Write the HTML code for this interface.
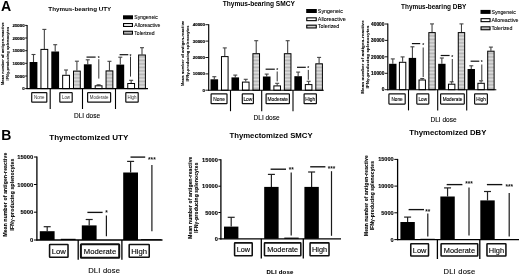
<!DOCTYPE html>
<html><head><meta charset="utf-8"><title>Figure</title>
<style>
html,body{margin:0;padding:0;background:#fff;}
body{width:520px;height:275px;overflow:hidden;}
svg{display:block;font-family:'Liberation Sans', sans-serif;filter:blur(0.3px);}
</style></head><body>
<svg width="520" height="275" viewBox="0 0 520 275">
<defs><pattern id="hatch" width="4" height="1.4" patternUnits="userSpaceOnUse"><rect width="4" height="1.4" fill="#dedede"/><rect y="0" width="4" height="0.6" fill="#adadad"/></pattern></defs>
<rect width="520" height="275" fill="#fff"/>
<line x1="33.50" y1="54.50" x2="33.50" y2="62.00" stroke="#444" stroke-width="1.1" />
<line x1="31.50" y1="54.50" x2="35.50" y2="54.50" stroke="#444" stroke-width="1.1" />
<rect x="29.60" y="62.00" width="7.80" height="26.60" fill="#000" stroke="none" stroke-width="0"/>
<line x1="44.35" y1="29.40" x2="44.35" y2="48.90" stroke="#444" stroke-width="1.1" />
<line x1="42.35" y1="29.40" x2="46.35" y2="29.40" stroke="#444" stroke-width="1.1" />
<rect x="40.95" y="49.40" width="6.80" height="39.20" fill="#fff" stroke="#000" stroke-width="1.0"/>
<line x1="55.20" y1="44.70" x2="55.20" y2="51.50" stroke="#444" stroke-width="1.1" />
<line x1="53.20" y1="44.70" x2="57.20" y2="44.70" stroke="#444" stroke-width="1.1" />
<rect x="51.30" y="51.50" width="7.80" height="37.10" fill="#000" stroke="none" stroke-width="0"/>
<line x1="66.05" y1="70.00" x2="66.05" y2="74.80" stroke="#444" stroke-width="1.1" />
<line x1="64.05" y1="70.00" x2="68.05" y2="70.00" stroke="#444" stroke-width="1.1" />
<rect x="62.65" y="75.30" width="6.80" height="13.30" fill="#fff" stroke="#000" stroke-width="1.0"/>
<line x1="76.90" y1="61.20" x2="76.90" y2="70.60" stroke="#444" stroke-width="1.1" />
<line x1="74.90" y1="61.20" x2="78.90" y2="61.20" stroke="#444" stroke-width="1.1" />
<rect x="73.50" y="71.10" width="6.80" height="17.50" fill="url(#hatch)" stroke="#000" stroke-width="1.0"/>
<line x1="87.75" y1="59.80" x2="87.75" y2="64.30" stroke="#444" stroke-width="1.1" />
<line x1="85.75" y1="59.80" x2="89.75" y2="59.80" stroke="#444" stroke-width="1.1" />
<rect x="83.85" y="64.30" width="7.80" height="24.30" fill="#000" stroke="none" stroke-width="0"/>
<line x1="98.60" y1="84.80" x2="98.60" y2="85.30" stroke="#444" stroke-width="1.1" />
<line x1="96.60" y1="84.80" x2="100.60" y2="84.80" stroke="#444" stroke-width="1.1" />
<rect x="95.20" y="85.80" width="6.80" height="2.80" fill="#fff" stroke="#000" stroke-width="1.0"/>
<line x1="109.45" y1="61.30" x2="109.45" y2="70.40" stroke="#444" stroke-width="1.1" />
<line x1="107.45" y1="61.30" x2="111.45" y2="61.30" stroke="#444" stroke-width="1.1" />
<rect x="106.05" y="70.90" width="6.80" height="17.70" fill="url(#hatch)" stroke="#000" stroke-width="1.0"/>
<line x1="120.30" y1="57.20" x2="120.30" y2="64.60" stroke="#444" stroke-width="1.1" />
<line x1="118.30" y1="57.20" x2="122.30" y2="57.20" stroke="#444" stroke-width="1.1" />
<rect x="116.40" y="64.60" width="7.80" height="24.00" fill="#000" stroke="none" stroke-width="0"/>
<line x1="131.15" y1="80.30" x2="131.15" y2="83.00" stroke="#444" stroke-width="1.1" />
<line x1="129.15" y1="80.30" x2="133.15" y2="80.30" stroke="#444" stroke-width="1.1" />
<rect x="127.75" y="83.50" width="6.80" height="5.10" fill="#fff" stroke="#000" stroke-width="1.0"/>
<line x1="142.00" y1="47.70" x2="142.00" y2="54.50" stroke="#444" stroke-width="1.1" />
<line x1="140.00" y1="47.70" x2="144.00" y2="47.70" stroke="#444" stroke-width="1.1" />
<rect x="138.60" y="55.00" width="6.80" height="33.60" fill="url(#hatch)" stroke="#000" stroke-width="1.0"/>
<line x1="27.10" y1="24.90" x2="27.10" y2="89.10" stroke="#000" stroke-width="1.15" />
<line x1="26.60" y1="88.60" x2="148.00" y2="88.60" stroke="#000" stroke-width="1.15" />
<line x1="25.10" y1="25.40" x2="27.10" y2="25.40" stroke="#000" stroke-width="0.9" />
<text x="24.70" y="26.98" font-size="4.4" font-weight="bold" text-anchor="end" fill="#000" stroke="#000" stroke-width="0.15">25000</text>
<line x1="25.10" y1="38.00" x2="27.10" y2="38.00" stroke="#000" stroke-width="0.9" />
<text x="24.70" y="39.58" font-size="4.4" font-weight="bold" text-anchor="end" fill="#000" stroke="#000" stroke-width="0.15">20000</text>
<line x1="25.10" y1="50.70" x2="27.10" y2="50.70" stroke="#000" stroke-width="0.9" />
<text x="24.70" y="52.28" font-size="4.4" font-weight="bold" text-anchor="end" fill="#000" stroke="#000" stroke-width="0.15">15000</text>
<line x1="25.10" y1="63.30" x2="27.10" y2="63.30" stroke="#000" stroke-width="0.9" />
<text x="24.70" y="64.88" font-size="4.4" font-weight="bold" text-anchor="end" fill="#000" stroke="#000" stroke-width="0.15">10000</text>
<line x1="25.10" y1="76.00" x2="27.10" y2="76.00" stroke="#000" stroke-width="0.9" />
<text x="24.70" y="77.58" font-size="4.4" font-weight="bold" text-anchor="end" fill="#000" stroke="#000" stroke-width="0.15">5000</text>
<line x1="25.10" y1="88.60" x2="27.10" y2="88.60" stroke="#000" stroke-width="0.9" />
<text x="24.70" y="90.18" font-size="4.4" font-weight="bold" text-anchor="end" fill="#000" stroke="#000" stroke-width="0.15">0</text>
<line x1="86.50" y1="57.10" x2="95.60" y2="57.10" stroke="#111" stroke-width="1.2" />
<text x="98.80" y="60.20" font-size="5" font-weight="bold" text-anchor="middle" fill="#111" >*</text>
<line x1="98.80" y1="59.20" x2="98.80" y2="78.60" stroke="#1a1a1a" stroke-width="0.9" />
<line x1="119.60" y1="54.70" x2="128.30" y2="54.70" stroke="#111" stroke-width="1.2" />
<text x="130.50" y="57.80" font-size="5" font-weight="bold" text-anchor="middle" fill="#111" >*</text>
<line x1="130.50" y1="56.60" x2="130.50" y2="76.60" stroke="#1a1a1a" stroke-width="0.9" />
<line x1="50.20" y1="88.60" x2="50.20" y2="109.00" stroke="#000" stroke-width="1.1" />
<line x1="82.50" y1="88.60" x2="82.50" y2="109.00" stroke="#000" stroke-width="1.1" />
<line x1="115.50" y1="88.60" x2="115.50" y2="109.00" stroke="#000" stroke-width="1.1" />
<rect x="31.70" y="92.60" width="15.10" height="9.60" rx="0.5" fill="#fff" stroke="#111" stroke-width="1.2"/>
<text x="39.25" y="99.40" font-size="4.45" font-weight="normal" text-anchor="middle" fill="#333" >None</text>
<rect x="59.80" y="92.60" width="12.40" height="9.60" rx="0.5" fill="#fff" stroke="#111" stroke-width="1.2"/>
<text x="66.00" y="99.40" font-size="4.45" font-weight="normal" text-anchor="middle" fill="#333" >Low</text>
<rect x="87.60" y="92.60" width="23.00" height="9.60" rx="0.5" fill="#fff" stroke="#111" stroke-width="1.2"/>
<text x="99.10" y="99.40" font-size="4.45" font-weight="normal" text-anchor="middle" fill="#333" >Moderate</text>
<rect x="125.80" y="92.60" width="12.40" height="9.60" rx="0.5" fill="#fff" stroke="#111" stroke-width="1.2"/>
<text x="132.00" y="99.40" font-size="4.45" font-weight="normal" text-anchor="middle" fill="#333" >High</text>
<text x="87.00" y="117.80" font-size="6.5" font-weight="normal" text-anchor="middle" fill="#000" stroke="#000" stroke-width="0.1">DLI dose</text>
<text x="79.80" y="10.60" font-size="6.25" font-weight="bold" text-anchor="middle" fill="#000" >Thymus-bearing UTY</text>
<rect x="123.00" y="15.30" width="10.00" height="4.00" fill="#000" stroke="none" stroke-width="0"/>
<text x="134.30" y="19.12" font-size="5.05" font-weight="normal" text-anchor="start" fill="#000" stroke="#000" stroke-width="0.08">Syngeneic</text>
<rect x="123.55" y="23.55" width="8.90" height="2.90" fill="#fff" stroke="#000" stroke-width="1.1"/>
<text x="134.30" y="26.82" font-size="5.05" font-weight="normal" text-anchor="start" fill="#000" stroke="#000" stroke-width="0.08">Alloreactive</text>
<rect x="123.55" y="31.25" width="8.90" height="2.90" fill="url(#hatch)" stroke="#000" stroke-width="1.1"/>
<text x="134.30" y="34.52" font-size="5.05" font-weight="normal" text-anchor="start" fill="#000" stroke="#000" stroke-width="0.08">Tolerized</text>
<text transform="translate(4.30,53.70) rotate(-90)" font-size="3.8" font-weight="bold" text-anchor="middle" fill="#000" stroke="#000" stroke-width="0.1" letter-spacing="0.1">Mean number of antigen-reactive</text>
<text transform="translate(8.80,53.70) rotate(-90)" font-size="3.8" font-weight="bold" text-anchor="middle" fill="#000" stroke="#000" stroke-width="0.1" letter-spacing="0.1">IFNγ-producing splenocytes</text>
<line x1="214.30" y1="76.70" x2="214.30" y2="79.30" stroke="#444" stroke-width="1.1" />
<line x1="212.30" y1="76.70" x2="216.30" y2="76.70" stroke="#444" stroke-width="1.1" />
<rect x="210.50" y="79.30" width="7.60" height="10.90" fill="#000" stroke="none" stroke-width="0"/>
<line x1="224.78" y1="47.90" x2="224.78" y2="56.10" stroke="#444" stroke-width="1.1" />
<line x1="222.78" y1="47.90" x2="226.78" y2="47.90" stroke="#444" stroke-width="1.1" />
<rect x="221.48" y="56.60" width="6.60" height="33.60" fill="#fff" stroke="#000" stroke-width="1.0"/>
<line x1="235.26" y1="75.10" x2="235.26" y2="77.40" stroke="#444" stroke-width="1.1" />
<line x1="233.26" y1="75.10" x2="237.26" y2="75.10" stroke="#444" stroke-width="1.1" />
<rect x="231.46" y="77.40" width="7.60" height="12.80" fill="#000" stroke="none" stroke-width="0"/>
<line x1="245.74" y1="79.30" x2="245.74" y2="81.60" stroke="#444" stroke-width="1.1" />
<line x1="243.74" y1="79.30" x2="247.74" y2="79.30" stroke="#444" stroke-width="1.1" />
<rect x="242.44" y="82.10" width="6.60" height="8.10" fill="#fff" stroke="#000" stroke-width="1.0"/>
<line x1="256.22" y1="40.70" x2="256.22" y2="53.20" stroke="#444" stroke-width="1.1" />
<line x1="254.22" y1="40.70" x2="258.22" y2="40.70" stroke="#444" stroke-width="1.1" />
<rect x="252.92" y="53.70" width="6.60" height="36.50" fill="url(#hatch)" stroke="#000" stroke-width="1.0"/>
<line x1="266.70" y1="74.10" x2="266.70" y2="76.50" stroke="#444" stroke-width="1.1" />
<line x1="264.70" y1="74.10" x2="268.70" y2="74.10" stroke="#444" stroke-width="1.1" />
<rect x="262.90" y="76.50" width="7.60" height="13.70" fill="#000" stroke="none" stroke-width="0"/>
<line x1="277.18" y1="83.30" x2="277.18" y2="85.40" stroke="#444" stroke-width="1.1" />
<line x1="275.18" y1="83.30" x2="279.18" y2="83.30" stroke="#444" stroke-width="1.1" />
<rect x="273.88" y="85.90" width="6.60" height="4.30" fill="#fff" stroke="#000" stroke-width="1.0"/>
<line x1="287.66" y1="40.70" x2="287.66" y2="53.20" stroke="#444" stroke-width="1.1" />
<line x1="285.66" y1="40.70" x2="289.66" y2="40.70" stroke="#444" stroke-width="1.1" />
<rect x="284.36" y="53.70" width="6.60" height="36.50" fill="url(#hatch)" stroke="#000" stroke-width="1.0"/>
<line x1="298.14" y1="72.10" x2="298.14" y2="76.20" stroke="#444" stroke-width="1.1" />
<line x1="296.14" y1="72.10" x2="300.14" y2="72.10" stroke="#444" stroke-width="1.1" />
<rect x="294.34" y="76.20" width="7.60" height="14.00" fill="#000" stroke="none" stroke-width="0"/>
<line x1="308.62" y1="81.30" x2="308.62" y2="84.10" stroke="#444" stroke-width="1.1" />
<line x1="306.62" y1="81.30" x2="310.62" y2="81.30" stroke="#444" stroke-width="1.1" />
<rect x="305.32" y="84.60" width="6.60" height="5.60" fill="#fff" stroke="#000" stroke-width="1.0"/>
<line x1="319.10" y1="57.40" x2="319.10" y2="63.30" stroke="#444" stroke-width="1.1" />
<line x1="317.10" y1="57.40" x2="321.10" y2="57.40" stroke="#444" stroke-width="1.1" />
<rect x="315.80" y="63.80" width="6.60" height="26.40" fill="url(#hatch)" stroke="#000" stroke-width="1.0"/>
<line x1="208.70" y1="24.20" x2="208.70" y2="90.70" stroke="#000" stroke-width="1.15" />
<line x1="208.20" y1="90.20" x2="323.80" y2="90.20" stroke="#000" stroke-width="1.15" />
<line x1="205.40" y1="24.70" x2="208.70" y2="24.70" stroke="#000" stroke-width="0.9" />
<text x="205.00" y="26.28" font-size="4.4" font-weight="bold" text-anchor="end" fill="#000" stroke="#000" stroke-width="0.15">40000</text>
<line x1="205.40" y1="41.10" x2="208.70" y2="41.10" stroke="#000" stroke-width="0.9" />
<text x="205.00" y="42.68" font-size="4.4" font-weight="bold" text-anchor="end" fill="#000" stroke="#000" stroke-width="0.15">30000</text>
<line x1="205.40" y1="57.50" x2="208.70" y2="57.50" stroke="#000" stroke-width="0.9" />
<text x="205.00" y="59.08" font-size="4.4" font-weight="bold" text-anchor="end" fill="#000" stroke="#000" stroke-width="0.15">20000</text>
<line x1="205.40" y1="73.90" x2="208.70" y2="73.90" stroke="#000" stroke-width="0.9" />
<text x="205.00" y="75.48" font-size="4.4" font-weight="bold" text-anchor="end" fill="#000" stroke="#000" stroke-width="0.15">10000</text>
<line x1="205.40" y1="90.20" x2="208.70" y2="90.20" stroke="#000" stroke-width="0.9" />
<text x="205.00" y="91.78" font-size="4.4" font-weight="bold" text-anchor="end" fill="#000" stroke="#000" stroke-width="0.15">0</text>
<line x1="265.60" y1="69.20" x2="274.80" y2="69.20" stroke="#111" stroke-width="1.2" />
<text x="277.20" y="72.30" font-size="5" font-weight="bold" text-anchor="middle" fill="#111" >*</text>
<line x1="277.20" y1="71.50" x2="277.20" y2="81.40" stroke="#1a1a1a" stroke-width="0.9" />
<line x1="297.00" y1="67.30" x2="305.80" y2="67.30" stroke="#111" stroke-width="1.2" />
<text x="308.30" y="70.40" font-size="5" font-weight="bold" text-anchor="middle" fill="#111" >*</text>
<line x1="308.30" y1="69.90" x2="308.30" y2="79.80" stroke="#1a1a1a" stroke-width="0.9" />
<line x1="230.50" y1="90.20" x2="230.50" y2="111.20" stroke="#000" stroke-width="1.1" />
<line x1="261.70" y1="90.20" x2="261.70" y2="111.20" stroke="#000" stroke-width="1.1" />
<line x1="293.00" y1="90.20" x2="293.00" y2="111.20" stroke="#000" stroke-width="1.1" />
<rect x="211.10" y="93.80" width="15.90" height="9.90" rx="0.5" fill="#fff" stroke="#111" stroke-width="1.2"/>
<text x="219.05" y="100.90" font-size="4.85" font-weight="normal" text-anchor="middle" fill="#000" stroke="#000" stroke-width="0.1">None</text>
<rect x="242.30" y="93.80" width="11.10" height="9.90" rx="0.5" fill="#fff" stroke="#111" stroke-width="1.2"/>
<text x="247.85" y="100.90" font-size="4.85" font-weight="normal" text-anchor="middle" fill="#000" stroke="#000" stroke-width="0.1">Low</text>
<rect x="266.10" y="93.80" width="23.30" height="9.90" rx="0.5" fill="#fff" stroke="#111" stroke-width="1.2"/>
<text x="277.75" y="100.90" font-size="4.85" font-weight="normal" text-anchor="middle" fill="#000" stroke="#000" stroke-width="0.1">Moderate</text>
<rect x="304.10" y="93.80" width="12.30" height="9.90" rx="0.5" fill="#fff" stroke="#111" stroke-width="1.2"/>
<text x="310.25" y="100.90" font-size="4.85" font-weight="normal" text-anchor="middle" fill="#000" stroke="#000" stroke-width="0.1">High</text>
<text x="266.60" y="119.80" font-size="6.5" font-weight="normal" text-anchor="middle" fill="#000" stroke="#000" stroke-width="0.1">DLI dose</text>
<text x="258.80" y="6.10" font-size="6.6" font-weight="bold" text-anchor="middle" fill="#000" >Thymus-bearing SMCY</text>
<rect x="306.20" y="9.00" width="10.60" height="4.00" fill="#000" stroke="none" stroke-width="0"/>
<text x="317.80" y="12.94" font-size="5.4" font-weight="normal" text-anchor="start" fill="#000" stroke="#000" stroke-width="0.08">Syngeneic</text>
<rect x="306.75" y="17.85" width="9.50" height="2.80" fill="#fff" stroke="#000" stroke-width="1.1"/>
<text x="317.80" y="21.19" font-size="5.4" font-weight="normal" text-anchor="start" fill="#000" stroke="#000" stroke-width="0.08">Alloreactive</text>
<rect x="306.75" y="25.15" width="9.50" height="2.80" fill="url(#hatch)" stroke="#000" stroke-width="1.1"/>
<text x="317.80" y="28.49" font-size="5.4" font-weight="normal" text-anchor="start" fill="#000" stroke="#000" stroke-width="0.08">Tolerized</text>
<text transform="translate(183.50,53.40) rotate(-90)" font-size="3.95" font-weight="bold" text-anchor="middle" fill="#000" stroke="#000" stroke-width="0.1" letter-spacing="0.12">Mean number of antigen-reactive</text>
<text transform="translate(189.20,53.40) rotate(-90)" font-size="3.95" font-weight="bold" text-anchor="middle" fill="#000" stroke="#000" stroke-width="0.1" letter-spacing="0.12">IFNγ-producing splenocytes</text>
<line x1="392.80" y1="58.90" x2="392.80" y2="63.80" stroke="#444" stroke-width="1.1" />
<line x1="390.80" y1="58.90" x2="394.80" y2="58.90" stroke="#444" stroke-width="1.1" />
<rect x="389.10" y="63.80" width="7.40" height="25.90" fill="#000" stroke="none" stroke-width="0"/>
<line x1="402.61" y1="56.90" x2="402.61" y2="61.80" stroke="#444" stroke-width="1.1" />
<line x1="400.61" y1="56.90" x2="404.61" y2="56.90" stroke="#444" stroke-width="1.1" />
<rect x="399.41" y="62.30" width="6.40" height="27.40" fill="#fff" stroke="#000" stroke-width="1.0"/>
<line x1="412.42" y1="46.80" x2="412.42" y2="57.90" stroke="#444" stroke-width="1.1" />
<line x1="410.42" y1="46.80" x2="414.42" y2="46.80" stroke="#444" stroke-width="1.1" />
<rect x="408.72" y="57.90" width="7.40" height="31.80" fill="#000" stroke="none" stroke-width="0"/>
<line x1="422.23" y1="78.50" x2="422.23" y2="79.50" stroke="#444" stroke-width="1.1" />
<line x1="420.23" y1="78.50" x2="424.23" y2="78.50" stroke="#444" stroke-width="1.1" />
<rect x="419.03" y="80.00" width="6.40" height="9.70" fill="#fff" stroke="#000" stroke-width="1.0"/>
<line x1="432.04" y1="23.90" x2="432.04" y2="32.10" stroke="#444" stroke-width="1.1" />
<line x1="430.04" y1="23.90" x2="434.04" y2="23.90" stroke="#444" stroke-width="1.1" />
<rect x="428.84" y="32.60" width="6.40" height="57.10" fill="url(#hatch)" stroke="#000" stroke-width="1.0"/>
<line x1="441.85" y1="58.00" x2="441.85" y2="63.80" stroke="#444" stroke-width="1.1" />
<line x1="439.85" y1="58.00" x2="443.85" y2="58.00" stroke="#444" stroke-width="1.1" />
<rect x="438.15" y="63.80" width="7.40" height="25.90" fill="#000" stroke="none" stroke-width="0"/>
<line x1="451.66" y1="81.80" x2="451.66" y2="83.70" stroke="#444" stroke-width="1.1" />
<line x1="449.66" y1="81.80" x2="453.66" y2="81.80" stroke="#444" stroke-width="1.1" />
<rect x="448.46" y="84.20" width="6.40" height="5.50" fill="#fff" stroke="#000" stroke-width="1.0"/>
<line x1="461.47" y1="23.90" x2="461.47" y2="32.10" stroke="#444" stroke-width="1.1" />
<line x1="459.47" y1="23.90" x2="463.47" y2="23.90" stroke="#444" stroke-width="1.1" />
<rect x="458.27" y="32.60" width="6.40" height="57.10" fill="url(#hatch)" stroke="#000" stroke-width="1.0"/>
<line x1="471.28" y1="65.80" x2="471.28" y2="69.00" stroke="#444" stroke-width="1.1" />
<line x1="469.28" y1="65.80" x2="473.28" y2="65.80" stroke="#444" stroke-width="1.1" />
<rect x="467.58" y="69.00" width="7.40" height="20.70" fill="#000" stroke="none" stroke-width="0"/>
<line x1="481.09" y1="80.80" x2="481.09" y2="82.80" stroke="#444" stroke-width="1.1" />
<line x1="479.09" y1="80.80" x2="483.09" y2="80.80" stroke="#444" stroke-width="1.1" />
<rect x="477.89" y="83.30" width="6.40" height="6.40" fill="#fff" stroke="#000" stroke-width="1.0"/>
<line x1="490.90" y1="47.10" x2="490.90" y2="50.70" stroke="#444" stroke-width="1.1" />
<line x1="488.90" y1="47.10" x2="492.90" y2="47.10" stroke="#444" stroke-width="1.1" />
<rect x="487.70" y="51.20" width="6.40" height="38.50" fill="url(#hatch)" stroke="#000" stroke-width="1.0"/>
<line x1="387.80" y1="23.50" x2="387.80" y2="90.20" stroke="#000" stroke-width="1.15" />
<line x1="387.30" y1="89.70" x2="496.30" y2="89.70" stroke="#000" stroke-width="1.15" />
<line x1="384.80" y1="24.00" x2="387.80" y2="24.00" stroke="#000" stroke-width="0.9" />
<text x="384.40" y="25.73" font-size="4.8" font-weight="bold" text-anchor="end" fill="#000" stroke="#000" stroke-width="0.15">40000</text>
<line x1="384.80" y1="40.40" x2="387.80" y2="40.40" stroke="#000" stroke-width="0.9" />
<text x="384.40" y="42.13" font-size="4.8" font-weight="bold" text-anchor="end" fill="#000" stroke="#000" stroke-width="0.15">30000</text>
<line x1="384.80" y1="56.80" x2="387.80" y2="56.80" stroke="#000" stroke-width="0.9" />
<text x="384.40" y="58.53" font-size="4.8" font-weight="bold" text-anchor="end" fill="#000" stroke="#000" stroke-width="0.15">20000</text>
<line x1="384.80" y1="73.30" x2="387.80" y2="73.30" stroke="#000" stroke-width="0.9" />
<text x="384.40" y="75.03" font-size="4.8" font-weight="bold" text-anchor="end" fill="#000" stroke="#000" stroke-width="0.15">10000</text>
<line x1="384.80" y1="89.70" x2="387.80" y2="89.70" stroke="#000" stroke-width="0.9" />
<text x="384.40" y="91.43" font-size="4.8" font-weight="bold" text-anchor="end" fill="#000" stroke="#000" stroke-width="0.15">0</text>
<line x1="411.90" y1="43.60" x2="420.20" y2="43.60" stroke="#111" stroke-width="1.2" />
<text x="423.20" y="46.70" font-size="5" font-weight="bold" text-anchor="middle" fill="#111" >*</text>
<line x1="423.20" y1="47.50" x2="423.20" y2="77.00" stroke="#1a1a1a" stroke-width="0.9" />
<line x1="440.70" y1="55.50" x2="449.60" y2="55.50" stroke="#111" stroke-width="1.2" />
<text x="452.30" y="58.60" font-size="5" font-weight="bold" text-anchor="middle" fill="#111" >*</text>
<line x1="452.30" y1="59.00" x2="452.30" y2="81.80" stroke="#1a1a1a" stroke-width="0.9" />
<line x1="470.60" y1="61.20" x2="479.30" y2="61.20" stroke="#111" stroke-width="1.2" />
<text x="481.80" y="64.30" font-size="5" font-weight="bold" text-anchor="middle" fill="#111" >*</text>
<line x1="481.80" y1="64.50" x2="481.80" y2="80.10" stroke="#1a1a1a" stroke-width="0.9" />
<line x1="408.50" y1="89.70" x2="408.50" y2="110.40" stroke="#000" stroke-width="1.1" />
<line x1="437.70" y1="89.70" x2="437.70" y2="110.40" stroke="#000" stroke-width="1.1" />
<line x1="466.70" y1="89.70" x2="466.70" y2="110.40" stroke="#000" stroke-width="1.1" />
<rect x="388.90" y="93.90" width="16.30" height="10.20" rx="0.5" fill="#fff" stroke="#111" stroke-width="1.2"/>
<text x="397.05" y="101.07" font-size="4.65" font-weight="normal" text-anchor="middle" fill="#000" stroke="#000" stroke-width="0.1">None</text>
<rect x="416.80" y="93.90" width="12.00" height="10.20" rx="0.5" fill="#fff" stroke="#111" stroke-width="1.2"/>
<text x="422.80" y="101.07" font-size="4.65" font-weight="normal" text-anchor="middle" fill="#000" stroke="#000" stroke-width="0.1">Low</text>
<rect x="440.60" y="93.90" width="23.70" height="10.20" rx="0.5" fill="#fff" stroke="#111" stroke-width="1.2"/>
<text x="452.45" y="101.07" font-size="4.65" font-weight="normal" text-anchor="middle" fill="#000" stroke="#000" stroke-width="0.1">Moderate</text>
<rect x="474.60" y="93.90" width="12.80" height="10.20" rx="0.5" fill="#fff" stroke="#111" stroke-width="1.2"/>
<text x="481.00" y="101.07" font-size="4.65" font-weight="normal" text-anchor="middle" fill="#000" stroke="#000" stroke-width="0.1">High</text>
<text x="443.50" y="121.60" font-size="6.5" font-weight="normal" text-anchor="middle" fill="#000" stroke="#000" stroke-width="0.1">DLI dose</text>
<text x="433.70" y="8.70" font-size="6.43" font-weight="bold" text-anchor="middle" fill="#000" >Thymus-bearing DBY</text>
<rect x="480.50" y="9.90" width="10.10" height="4.00" fill="#000" stroke="none" stroke-width="0"/>
<text x="491.40" y="13.79" font-size="5.25" font-weight="normal" text-anchor="start" fill="#000" stroke="#000" stroke-width="0.08">Syngeneic</text>
<rect x="481.05" y="18.65" width="9.00" height="3.00" fill="#fff" stroke="#000" stroke-width="1.1"/>
<text x="491.40" y="22.04" font-size="5.25" font-weight="normal" text-anchor="start" fill="#000" stroke="#000" stroke-width="0.08">Alloreactive</text>
<rect x="481.05" y="26.85" width="9.00" height="2.90" fill="url(#hatch)" stroke="#000" stroke-width="1.1"/>
<text x="491.40" y="30.19" font-size="5.25" font-weight="normal" text-anchor="start" fill="#000" stroke="#000" stroke-width="0.08">Tolerized</text>
<text transform="translate(363.70,57.00) rotate(-90)" font-size="4.4" font-weight="bold" text-anchor="middle" fill="#000" stroke="#000" stroke-width="0.1" letter-spacing="0.15">Mean number of antigen-reactive</text>
<text transform="translate(368.70,57.00) rotate(-90)" font-size="4.4" font-weight="bold" text-anchor="middle" fill="#000" stroke="#000" stroke-width="0.1" letter-spacing="0.15">IFNγ-producing splenocytes</text>
<text x="1.10" y="10.70" font-size="14.1" font-weight="bold" text-anchor="start" fill="#000" >A</text>
<text x="1.30" y="140.40" font-size="14" font-weight="bold" text-anchor="start" fill="#000" >B</text>
<line x1="47.20" y1="226.70" x2="47.20" y2="231.20" stroke="#222" stroke-width="1.2" />
<line x1="43.70" y1="226.70" x2="50.70" y2="226.70" stroke="#222" stroke-width="1.2" />
<rect x="39.80" y="231.20" width="14.80" height="8.80" fill="#000" stroke="none" stroke-width="0"/>
<rect x="60.80" y="238.80" width="14.80" height="1.20" fill="#000" stroke="none" stroke-width="0"/>
<line x1="89.20" y1="219.50" x2="89.20" y2="225.40" stroke="#222" stroke-width="1.2" />
<line x1="85.70" y1="219.50" x2="92.70" y2="219.50" stroke="#222" stroke-width="1.2" />
<rect x="81.80" y="225.40" width="14.80" height="14.60" fill="#000" stroke="none" stroke-width="0"/>
<line x1="130.60" y1="161.40" x2="130.60" y2="172.50" stroke="#222" stroke-width="1.2" />
<line x1="127.10" y1="161.40" x2="134.10" y2="161.40" stroke="#222" stroke-width="1.2" />
<rect x="123.20" y="172.50" width="14.80" height="67.50" fill="#000" stroke="none" stroke-width="0"/>
<rect x="141.00" y="239.20" width="20.30" height="0.80" fill="#000" stroke="none" stroke-width="0"/>
<line x1="36.90" y1="156.50" x2="36.90" y2="240.60" stroke="#000" stroke-width="1.3" />
<line x1="36.30" y1="240.00" x2="162.50" y2="240.00" stroke="#000" stroke-width="1.3" />
<line x1="33.90" y1="157.00" x2="36.90" y2="157.00" stroke="#000" stroke-width="1.0" />
<text x="33.30" y="159.09" font-size="5.8" font-weight="bold" text-anchor="end" fill="#000" stroke="#000" stroke-width="0.12">15000</text>
<line x1="33.90" y1="184.50" x2="36.90" y2="184.50" stroke="#000" stroke-width="1.0" />
<text x="33.30" y="186.59" font-size="5.8" font-weight="bold" text-anchor="end" fill="#000" stroke="#000" stroke-width="0.12">10000</text>
<line x1="33.90" y1="212.20" x2="36.90" y2="212.20" stroke="#000" stroke-width="1.0" />
<text x="33.30" y="214.29" font-size="5.8" font-weight="bold" text-anchor="end" fill="#000" stroke="#000" stroke-width="0.12">5000</text>
<line x1="33.90" y1="240.00" x2="36.90" y2="240.00" stroke="#000" stroke-width="1.0" />
<text x="33.30" y="242.09" font-size="5.8" font-weight="bold" text-anchor="end" fill="#000" stroke="#000" stroke-width="0.12">0</text>
<line x1="87.40" y1="212.40" x2="102.60" y2="212.40" stroke="#111" stroke-width="1.35" />
<text x="106.40" y="215.03" font-size="6.5" font-weight="bold" text-anchor="middle" fill="#111" >*</text>
<line x1="106.40" y1="215.40" x2="106.40" y2="236.30" stroke="#1a1a1a" stroke-width="1.2" />
<line x1="130.50" y1="157.10" x2="145.20" y2="157.10" stroke="#111" stroke-width="1.35" />
<text x="151.90" y="162.23" font-size="6.5" font-weight="bold" text-anchor="middle" fill="#111" >***</text>
<line x1="151.90" y1="164.90" x2="151.90" y2="231.20" stroke="#1a1a1a" stroke-width="1.2" />
<line x1="78.20" y1="240.00" x2="78.20" y2="259.80" stroke="#000" stroke-width="1.3" />
<line x1="121.90" y1="240.00" x2="121.90" y2="259.80" stroke="#000" stroke-width="1.3" />
<rect x="49.57" y="244.58" width="18.45" height="12.65" rx="0.5" fill="#fff" stroke="#111" stroke-width="1.55"/>
<text x="58.80" y="254.07" font-size="7.7" font-weight="normal" text-anchor="middle" fill="#000" stroke="#000" stroke-width="0.12">Low</text>
<rect x="80.90" y="244.30" width="38.30" height="13.40" rx="0.5" fill="#fff" stroke="#111" stroke-width="2.0"/>
<text x="100.05" y="254.17" font-size="7.7" font-weight="normal" text-anchor="middle" fill="#000" stroke="#000" stroke-width="0.12">Moderate</text>
<rect x="129.18" y="244.58" width="20.05" height="12.65" rx="0.5" fill="#fff" stroke="#111" stroke-width="1.55"/>
<text x="139.20" y="254.07" font-size="7.7" font-weight="normal" text-anchor="middle" fill="#000" stroke="#000" stroke-width="0.12">High</text>
<text x="104.20" y="272.60" font-size="7.6" font-weight="normal" text-anchor="middle" fill="#000" stroke="#000" stroke-width="0.1" letter-spacing="0.2">DLI dose</text>
<text x="88.80" y="139.60" font-size="8.05" font-weight="bold" text-anchor="middle" fill="#000" >Thymectomized UTY</text>
<text transform="translate(6.60,194.60) rotate(-90)" font-size="5.0" font-weight="bold" text-anchor="middle" fill="#000" stroke="#000" stroke-width="0.1" letter-spacing="0.18">Mean number of antigen-reactive</text>
<text transform="translate(13.60,194.60) rotate(-90)" font-size="5.0" font-weight="bold" text-anchor="middle" fill="#000" stroke="#000" stroke-width="0.1" letter-spacing="0.18">IFNγ-producing splenocytes</text>
<line x1="231.20" y1="217.30" x2="231.20" y2="226.60" stroke="#222" stroke-width="1.2" />
<line x1="227.70" y1="217.30" x2="234.70" y2="217.30" stroke="#222" stroke-width="1.2" />
<rect x="224.00" y="226.60" width="14.40" height="12.20" fill="#000" stroke="none" stroke-width="0"/>
<line x1="271.40" y1="174.40" x2="271.40" y2="186.90" stroke="#222" stroke-width="1.2" />
<line x1="267.90" y1="174.40" x2="274.90" y2="174.40" stroke="#222" stroke-width="1.2" />
<rect x="264.20" y="186.90" width="14.40" height="51.90" fill="#000" stroke="none" stroke-width="0"/>
<rect x="284.30" y="237.60" width="14.40" height="1.20" fill="#000" stroke="none" stroke-width="0"/>
<line x1="311.60" y1="172.00" x2="311.60" y2="186.90" stroke="#222" stroke-width="1.2" />
<line x1="308.10" y1="172.00" x2="315.10" y2="172.00" stroke="#222" stroke-width="1.2" />
<rect x="304.40" y="186.90" width="14.40" height="51.90" fill="#000" stroke="none" stroke-width="0"/>
<line x1="220.90" y1="159.30" x2="220.90" y2="239.40" stroke="#000" stroke-width="1.3" />
<line x1="220.30" y1="238.80" x2="341.00" y2="238.80" stroke="#000" stroke-width="1.3" />
<line x1="218.40" y1="159.80" x2="220.90" y2="159.80" stroke="#000" stroke-width="1.0" />
<text x="217.80" y="161.83" font-size="5.65" font-weight="bold" text-anchor="end" fill="#000" stroke="#000" stroke-width="0.12">15000</text>
<line x1="218.40" y1="186.20" x2="220.90" y2="186.20" stroke="#000" stroke-width="1.0" />
<text x="217.80" y="188.23" font-size="5.65" font-weight="bold" text-anchor="end" fill="#000" stroke="#000" stroke-width="0.12">10000</text>
<line x1="218.40" y1="212.50" x2="220.90" y2="212.50" stroke="#000" stroke-width="1.0" />
<text x="217.80" y="214.53" font-size="5.65" font-weight="bold" text-anchor="end" fill="#000" stroke="#000" stroke-width="0.12">5000</text>
<line x1="218.40" y1="238.80" x2="220.90" y2="238.80" stroke="#000" stroke-width="1.0" />
<text x="217.80" y="240.83" font-size="5.65" font-weight="bold" text-anchor="end" fill="#000" stroke="#000" stroke-width="0.12">0</text>
<line x1="270.60" y1="169.20" x2="286.00" y2="169.20" stroke="#111" stroke-width="1.35" />
<text x="291.20" y="172.23" font-size="6.5" font-weight="bold" text-anchor="middle" fill="#111" >**</text>
<line x1="291.20" y1="172.50" x2="291.20" y2="235.60" stroke="#1a1a1a" stroke-width="1.2" />
<line x1="310.20" y1="166.80" x2="325.40" y2="166.80" stroke="#111" stroke-width="1.35" />
<text x="331.50" y="170.83" font-size="6.5" font-weight="bold" text-anchor="middle" fill="#111" >***</text>
<line x1="331.50" y1="171.20" x2="331.50" y2="235.80" stroke="#1a1a1a" stroke-width="1.2" />
<line x1="261.30" y1="238.80" x2="261.30" y2="258.50" stroke="#000" stroke-width="1.3" />
<line x1="303.30" y1="238.80" x2="303.30" y2="258.50" stroke="#000" stroke-width="1.3" />
<rect x="234.58" y="242.88" width="17.65" height="12.85" rx="0.5" fill="#fff" stroke="#111" stroke-width="1.55"/>
<text x="243.40" y="252.33" font-size="7.3" font-weight="normal" text-anchor="middle" fill="#000" stroke="#000" stroke-width="0.12">Low</text>
<rect x="264.47" y="242.88" width="36.35" height="12.85" rx="0.5" fill="#fff" stroke="#111" stroke-width="1.55"/>
<text x="282.65" y="252.33" font-size="7.3" font-weight="normal" text-anchor="middle" fill="#000" stroke="#000" stroke-width="0.12">Moderate</text>
<rect x="310.07" y="242.88" width="18.95" height="12.85" rx="0.5" fill="#fff" stroke="#111" stroke-width="1.55"/>
<text x="319.55" y="252.33" font-size="7.3" font-weight="normal" text-anchor="middle" fill="#000" stroke="#000" stroke-width="0.12">High</text>
<text x="280.00" y="274.30" font-size="6.0" font-weight="bold" text-anchor="middle" fill="#000" stroke="#000" stroke-width="0.1" letter-spacing="0.2">DLI dose</text>
<text x="271.00" y="138.20" font-size="7.75" font-weight="bold" text-anchor="middle" fill="#000" >Thymectomized SMCY</text>
<text transform="translate(191.60,197.60) rotate(-90)" font-size="4.9" font-weight="bold" text-anchor="middle" fill="#000" stroke="#000" stroke-width="0.1" letter-spacing="0.18">Mean number of antigen-reactive</text>
<text transform="translate(198.20,197.60) rotate(-90)" font-size="4.9" font-weight="bold" text-anchor="middle" fill="#000" stroke="#000" stroke-width="0.1" letter-spacing="0.18">IFNγ-producing splenocytes</text>
<line x1="407.60" y1="217.10" x2="407.60" y2="222.00" stroke="#222" stroke-width="1.2" />
<line x1="404.10" y1="217.10" x2="411.10" y2="217.10" stroke="#222" stroke-width="1.2" />
<rect x="400.40" y="222.00" width="14.40" height="17.60" fill="#000" stroke="none" stroke-width="0"/>
<rect x="420.38" y="238.80" width="14.40" height="0.80" fill="#000" stroke="none" stroke-width="0"/>
<line x1="447.56" y1="187.90" x2="447.56" y2="196.50" stroke="#222" stroke-width="1.2" />
<line x1="444.06" y1="187.90" x2="451.06" y2="187.90" stroke="#222" stroke-width="1.2" />
<rect x="440.36" y="196.50" width="14.40" height="43.10" fill="#000" stroke="none" stroke-width="0"/>
<line x1="487.52" y1="191.50" x2="487.52" y2="200.40" stroke="#222" stroke-width="1.2" />
<line x1="484.02" y1="191.50" x2="491.02" y2="191.50" stroke="#222" stroke-width="1.2" />
<rect x="480.32" y="200.40" width="14.40" height="39.20" fill="#000" stroke="none" stroke-width="0"/>
<line x1="397.60" y1="158.90" x2="397.60" y2="240.20" stroke="#000" stroke-width="1.3" />
<line x1="397.00" y1="239.60" x2="519.00" y2="239.60" stroke="#000" stroke-width="1.3" />
<line x1="394.30" y1="159.40" x2="397.60" y2="159.40" stroke="#000" stroke-width="1.0" />
<text x="393.70" y="161.42" font-size="5.6" font-weight="bold" text-anchor="end" fill="#000" stroke="#000" stroke-width="0.12">15000</text>
<line x1="394.30" y1="186.10" x2="397.60" y2="186.10" stroke="#000" stroke-width="1.0" />
<text x="393.70" y="188.12" font-size="5.6" font-weight="bold" text-anchor="end" fill="#000" stroke="#000" stroke-width="0.12">10000</text>
<line x1="394.30" y1="212.80" x2="397.60" y2="212.80" stroke="#000" stroke-width="1.0" />
<text x="393.70" y="214.82" font-size="5.6" font-weight="bold" text-anchor="end" fill="#000" stroke="#000" stroke-width="0.12">5000</text>
<line x1="394.30" y1="239.60" x2="397.60" y2="239.60" stroke="#000" stroke-width="1.0" />
<text x="393.70" y="241.62" font-size="5.6" font-weight="bold" text-anchor="end" fill="#000" stroke="#000" stroke-width="0.12">0</text>
<line x1="408.60" y1="209.60" x2="424.00" y2="209.60" stroke="#111" stroke-width="1.35" />
<text x="427.80" y="213.63" font-size="6.5" font-weight="bold" text-anchor="middle" fill="#111" >**</text>
<line x1="427.80" y1="213.50" x2="427.80" y2="236.50" stroke="#1a1a1a" stroke-width="1.2" />
<line x1="446.70" y1="184.60" x2="462.40" y2="184.60" stroke="#111" stroke-width="1.35" />
<text x="469.00" y="185.83" font-size="6.5" font-weight="bold" text-anchor="middle" fill="#111" >***</text>
<line x1="469.00" y1="187.40" x2="469.00" y2="235.40" stroke="#1a1a1a" stroke-width="1.2" />
<line x1="486.90" y1="184.60" x2="502.30" y2="184.60" stroke="#111" stroke-width="1.35" />
<text x="509.20" y="188.63" font-size="6.5" font-weight="bold" text-anchor="middle" fill="#111" >***</text>
<line x1="509.20" y1="193.00" x2="509.20" y2="236.60" stroke="#1a1a1a" stroke-width="1.2" />
<line x1="437.40" y1="239.60" x2="437.40" y2="259.00" stroke="#000" stroke-width="1.3" />
<line x1="479.80" y1="239.60" x2="479.80" y2="259.00" stroke="#000" stroke-width="1.3" />
<rect x="410.77" y="243.68" width="17.75" height="12.35" rx="0.5" fill="#fff" stroke="#111" stroke-width="1.55"/>
<text x="419.65" y="252.91" font-size="7.4" font-weight="normal" text-anchor="middle" fill="#000" stroke="#000" stroke-width="0.12">Low</text>
<rect x="441.07" y="243.68" width="36.65" height="12.35" rx="0.5" fill="#fff" stroke="#111" stroke-width="1.55"/>
<text x="459.40" y="252.91" font-size="7.4" font-weight="normal" text-anchor="middle" fill="#000" stroke="#000" stroke-width="0.12">Moderate</text>
<rect x="486.97" y="243.68" width="18.95" height="12.35" rx="0.5" fill="#fff" stroke="#111" stroke-width="1.55"/>
<text x="496.45" y="252.91" font-size="7.4" font-weight="normal" text-anchor="middle" fill="#000" stroke="#000" stroke-width="0.12">High</text>
<text x="459.50" y="273.80" font-size="7.6" font-weight="normal" text-anchor="middle" fill="#000" stroke="#000" stroke-width="0.1" letter-spacing="0.2">DLI dose</text>
<text x="447.80" y="135.30" font-size="7.78" font-weight="bold" text-anchor="middle" fill="#000" >Thymectomized DBY</text>
<text transform="translate(368.00,195.60) rotate(-90)" font-size="4.85" font-weight="bold" text-anchor="middle" fill="#000" stroke="#000" stroke-width="0.1" letter-spacing="0.16">Mean number of antigen-reactive</text>
<text transform="translate(374.40,195.60) rotate(-90)" font-size="4.85" font-weight="bold" text-anchor="middle" fill="#000" stroke="#000" stroke-width="0.1" letter-spacing="0.16">IFNγ-producing splenocytes</text>
</svg>
</body></html>
